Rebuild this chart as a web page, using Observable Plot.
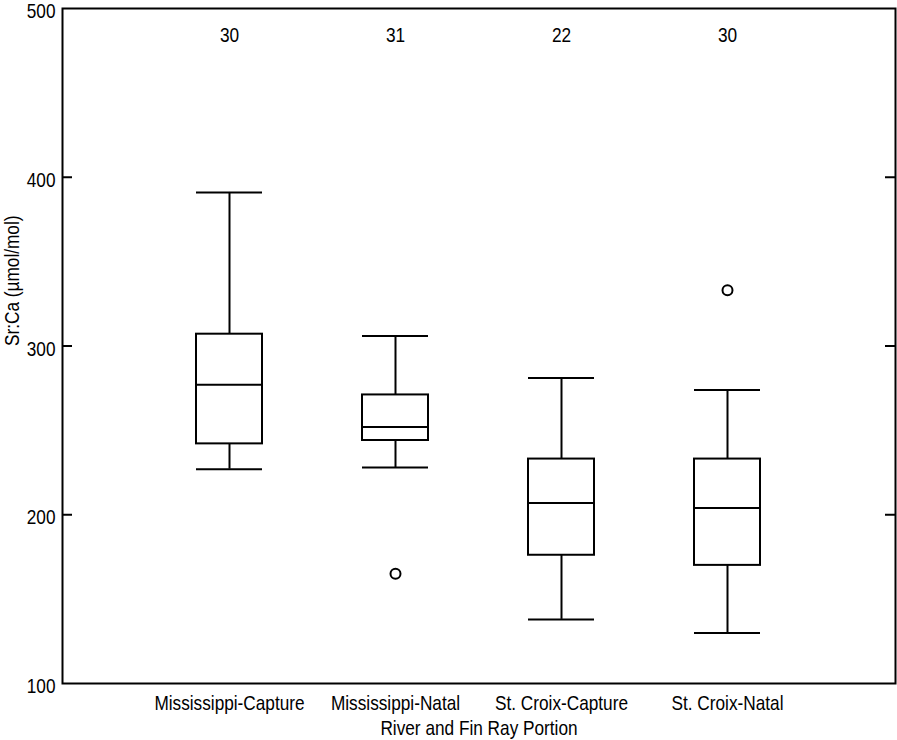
<!DOCTYPE html>
<html>
<head>
<meta charset="utf-8">
<script src="https://cdn.jsdelivr.net/npm/d3@7"></script>
<script src="https://cdn.jsdelivr.net/npm/@observablehq/plot@0.6"></script>
<style>
  body { margin: 0; background: #fff; }
  #chart svg { display: block; }
</style>
</head>
<body>
<div id="chart"></div>
<script>
const categories = ["Mississippi-Capture", "Mississippi-Natal", "St. Croix-Capture", "St. Croix-Natal"];
const counts = [30, 31, 22, 30];
const whiskerLow = [227, 228, 138, 130];
const q1 = [242, 244, 176, 170];
const median = [277, 252, 207, 204];
const q3 = [307, 271, 233, 233];
const whiskerHigh = [391, 306, 281, 274];
const outlierCats = ["Mississippi-Natal", "St. Croix-Natal"];
const outlierValues = [165, 333];
const yTicks = [100, 200, 300, 400, 500];
const innerTicks = [200, 300, 400];
const yTitle = "Sr:Ca (µmol/mol)";
const xTitle = "River and Fin Ray Portion";

const rows = categories.map((c, i) => ({
  cat: c, n: counts[i], lo: whiskerLow[i], q1: q1[i], med: median[i], q3: q3[i], hi: whiskerHigh[i]
}));
const outliers = outlierCats.map((c, i) => ({cat: c, value: outlierValues[i]}));

const font = "'Liberation Sans', Arial, sans-serif";
const fs = 21;
const sw = 2;

const chart = Plot.plot({
  width: 897,
  height: 740,
  marginLeft: 62,
  marginRight: 2,
  marginTop: 8,
  marginBottom: 57,
  style: {fontFamily: font, fontSize: fs + "px", color: "#000", background: "#fff"},
  x: {domain: categories, paddingInner: 0.6, paddingOuter: 0.795, align: 0.5},
  y: {domain: [100, 500]},
  marks: [
    Plot.ruleX(rows, {x: "cat", y1: "lo", y2: "q1", stroke: "#000", strokeWidth: sw}),
    Plot.ruleX(rows, {x: "cat", y1: "q3", y2: "hi", stroke: "#000", strokeWidth: sw}),
    Plot.barY(rows, {x: "cat", y1: "q1", y2: "q3", fill: "#fff", stroke: "#000", strokeWidth: sw}),
    Plot.tickY(rows, {x: "cat", y: "med", stroke: "#000", strokeWidth: sw}),
    Plot.tickY(rows, {x: "cat", y: "lo", stroke: "#000", strokeWidth: sw}),
    Plot.tickY(rows, {x: "cat", y: "hi", stroke: "#000", strokeWidth: sw}),
    Plot.dot(outliers, {x: "cat", y: "value", r: 5, fill: "#fff", stroke: "#000", strokeWidth: 2}),
    Plot.text(rows, {x: "cat", y: () => 484, text: d => String(d.n), fill: "#000", fontSize: fs}),
    Plot.axisY({anchor: "left", ticks: yTicks, tickSize: 0, tickPadding: 7, label: null, fill: "#000", dy: 3}),
    Plot.axisY({anchor: "left", ticks: innerTicks, tickSize: -10, text: null, label: null, stroke: "#000", strokeWidth: sw}),
    Plot.axisY({anchor: "right", ticks: innerTicks, tickSize: -11, text: null, label: null, stroke: "#000", strokeWidth: sw}),
    Plot.axisX({tickSize: 0, tickPadding: 12, label: null, fill: "#000"}),
    Plot.text([xTitle], {frameAnchor: "bottom", dy: 51, text: d => d, fill: "#000", fontSize: fs}),
    Plot.text([yTitle], {frameAnchor: "left", dx: -50, dy: 0, rotate: -90, text: d => d, fill: "#000", fontSize: fs}),
    Plot.frame({stroke: "#000", strokeWidth: sw})
  ]
});
document.getElementById("chart").appendChild(chart);

// Condense glyphs to mimic the narrow sans face of the reference
chart.querySelectorAll("text").forEach(t => {
  const targets = t.querySelectorAll("tspan").length ? t.querySelectorAll("tspan") : [t];
  targets.forEach(el => {
    const len = el.getComputedTextLength();
    if (len > 0) {
      el.setAttribute("textLength", (len * 0.82).toFixed(1));
      el.setAttribute("lengthAdjust", "spacingAndGlyphs");
    }
  });
});
</script>
</body>
</html>
